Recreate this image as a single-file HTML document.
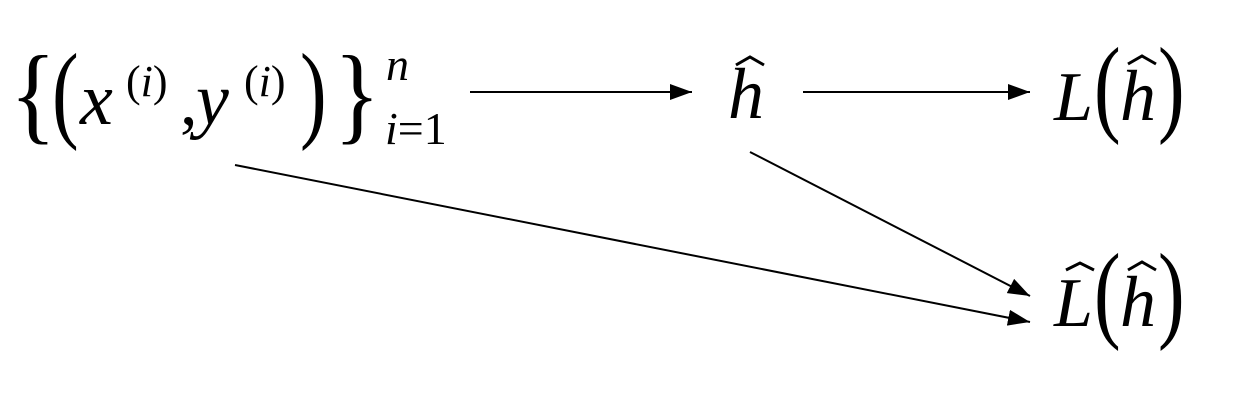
<!DOCTYPE html>
<html><head><meta charset="utf-8"><style>
html,body{margin:0;padding:0;background:#fff;width:1240px;height:406px;overflow:hidden}
svg text{font-family:"Liberation Serif",serif;fill:#000}
.it{font-style:italic}
</style></head><body>
<svg width="1240" height="406" viewBox="0 0 1240 406">
<defs><marker id="ah" markerWidth="22" markerHeight="16" refX="22" refY="8" orient="auto" markerUnits="userSpaceOnUse"><path d="M0,0 L22,8 L0,16 Z" fill="#000"/></marker></defs>
<g>
<text font-size="80" transform="translate(10,130) scale(1.2,1.35)">{</text>
<text font-size="80" transform="translate(52,128) scale(1,1.35)">(</text>
<text x="80" y="124" font-size="74" class="it">x</text>
<text x="126" y="96" font-size="44">(<tspan class="it">i</tspan>)</text>
<text x="180" y="124" font-size="70">,</text>
<text x="196" y="124" font-size="74" class="it">y</text>
<text x="244" y="96" font-size="44">(<tspan class="it">i</tspan>)</text>
<text font-size="80" transform="translate(300,128) scale(1,1.35)">)</text>
<text font-size="80" transform="translate(334,130) scale(1.2,1.35)">}</text>
<text x="386" y="80" font-size="46" class="it">n</text>
<text x="385" y="144" font-size="46"><tspan class="it">i</tspan>=1</text>
</g>
<g>
<text x="728" y="118" font-size="72" class="it">h</text>
<path d="M736,65 L750,57 L764,65" stroke="#000" stroke-width="3" fill="none"/>
</g>
<g>
<text x="1054" y="120" font-size="70" class="it">L</text>
<text font-size="80" transform="translate(1094,122) scale(1,1.35)">(</text>
<text x="1120" y="120" font-size="72" class="it">h</text>
<path d="M1128,64 L1142,56 L1156,64" stroke="#000" stroke-width="3" fill="none"/>
<text font-size="80" transform="translate(1158,122) scale(1,1.35)">)</text>
</g>
<g>
<text x="1054" y="326" font-size="70" class="it">L</text>
<path d="M1066,270 L1080,263 L1094,270" stroke="#000" stroke-width="3" fill="none"/>
<text font-size="80" transform="translate(1094,328) scale(1,1.35)">(</text>
<text x="1120" y="326" font-size="72" class="it">h</text>
<path d="M1128,270 L1142,262 L1156,270" stroke="#000" stroke-width="3" fill="none"/>
<text font-size="80" transform="translate(1158,328) scale(1,1.35)">)</text>
</g>
<g stroke="#000" stroke-width="2" fill="none">
<line x1="470" y1="92" x2="692" y2="92" marker-end="url(#ah)"/>
<line x1="803" y1="92" x2="1030" y2="92" marker-end="url(#ah)"/>
<line x1="750" y1="152" x2="1030" y2="296" marker-end="url(#ah)"/>
<line x1="235" y1="165" x2="1030" y2="322" marker-end="url(#ah)"/>
</g>
</svg>
</body></html>
